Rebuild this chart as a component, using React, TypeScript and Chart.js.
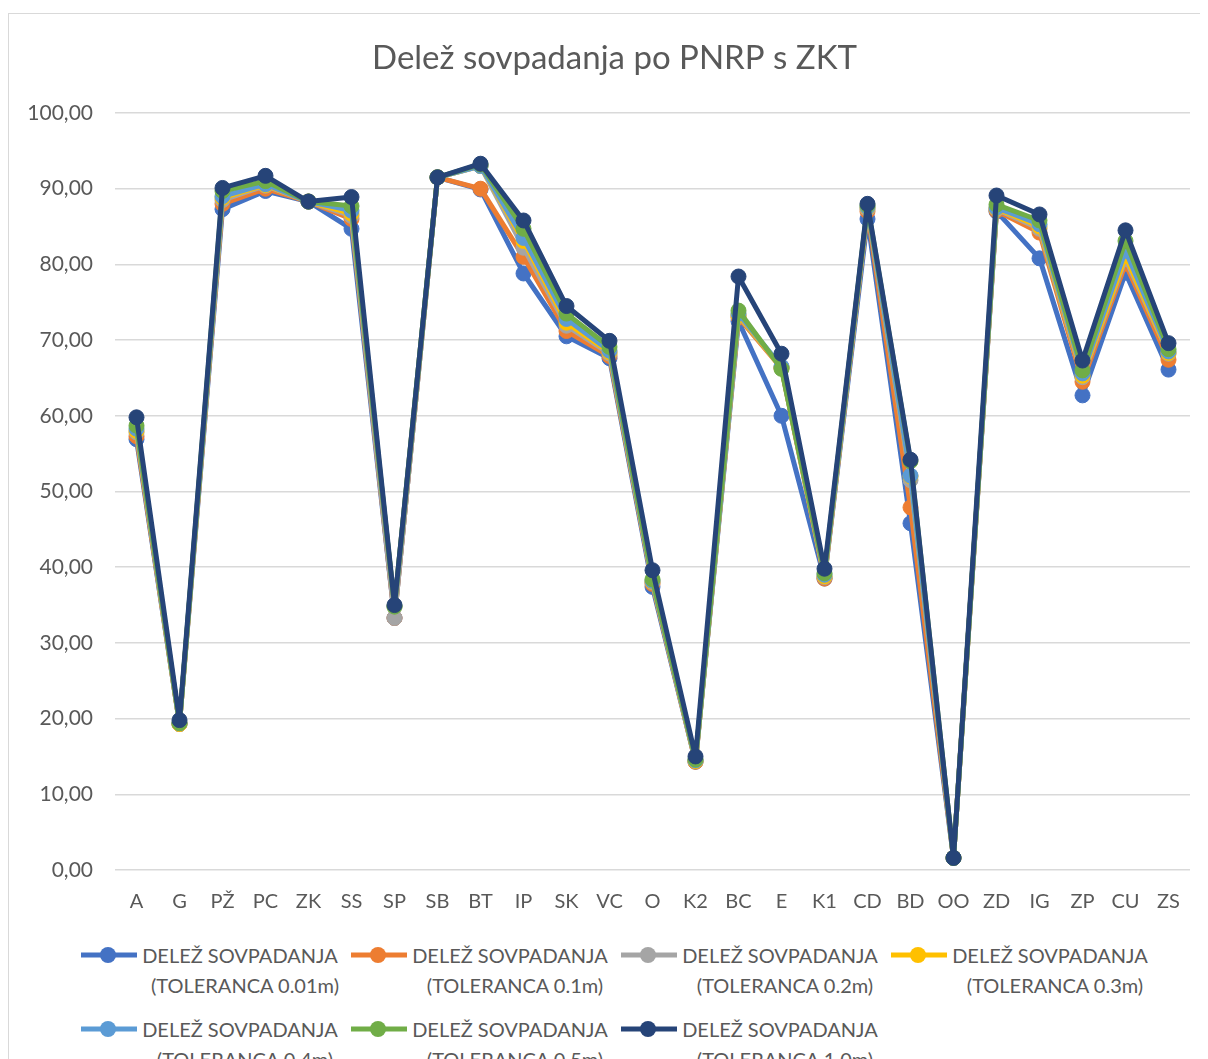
import React, { useEffect, useRef } from "react";
import { Chart, registerables } from "chart.js";

Chart.register(...registerables);

const titleText = "Delež sovpadanja po PNRP s ZKT";

const categories = ["A","G","PŽ","PC","ZK","SS","SP","SB","BT","IP","SK","VC","O","K2","BC","E","K1","CD","BD","OO","ZD","IG","ZP","CU","ZS"];

const tol001 = [56.9,19.3,87.3,89.7,88.3,84.7,33.3,91.5,89.9,78.8,70.5,67.6,37.4,14.3,72.5,60.0,38.5,86.0,45.8,1.6,87.0,80.8,62.7,78.9,66.1];
const tol01  = [57.3,19.3,88.0,90.0,88.3,86.0,33.3,91.5,90.0,81.0,71.2,67.9,37.8,14.3,73.0,66.3,38.5,87.0,47.9,1.6,87.1,84.2,64.5,80.1,67.4];
const tol02  = [57.8,19.3,88.5,90.4,88.3,86.4,33.3,91.5,93.0,82.2,71.9,68.2,38.0,14.4,73.2,66.4,38.7,87.3,51.5,1.6,87.3,84.7,65.1,80.7,68.2];
const tol03  = [58.0,19.3,88.8,90.5,88.3,86.7,34.8,91.5,93.0,83.1,72.3,68.4,38.1,14.4,73.3,66.4,38.8,87.5,52.0,1.6,87.4,85.0,65.3,81.1,68.3];
const tol04  = [58.3,19.4,89.0,90.6,88.3,87.1,34.8,91.5,93.0,83.5,72.8,68.6,38.2,14.5,73.5,66.5,39.0,87.6,52.1,1.6,87.5,85.3,65.6,81.8,68.5];
const tol05  = [58.7,19.4,89.7,91.0,88.3,87.7,34.8,91.5,93.2,84.7,73.5,69.1,38.4,14.6,73.9,66.2,39.2,87.8,54.0,1.6,87.9,85.8,66.0,83.1,68.8];
const tol10  = [59.8,19.8,90.1,91.7,88.3,88.9,35.0,91.5,93.3,85.8,74.5,69.9,39.6,15.0,78.4,68.2,39.8,88.0,54.2,1.6,89.1,86.6,67.3,84.5,69.6];

const seriesLabels = [
  "(TOLERANCA 0.01m)",
  "(TOLERANCA 0.1m)",
  "(TOLERANCA 0.2m)",
  "(TOLERANCA 0.3m)",
  "(TOLERANCA 0.4m)",
  "(TOLERANCA 0.5m)",
  "(TOLERANCA 1.0m)",
];
const seriesData = [tol001, tol01, tol02, tol03, tol04, tol05, tol10];
const seriesColors = ["#4472C4","#ED7D31","#A5A5A5","#FFC000","#5B9BD5","#70AD47","#264478"];

const yTicks = [0,10,20,30,40,50,60,70,80,90,100];

const FONT = "Lato, 'Liberation Sans', sans-serif";
const TEXT = "#595959";

const titlePlugin = {
  id: "centeredTitle",
  afterDraw(chart: any) {
    const ctx = chart.ctx;
    ctx.save();
    ctx.font = `normal 33px ${FONT}`;
    ctx.fillStyle = TEXT;
    ctx.textAlign = "center";
    ctx.textBaseline = "middle";
    ctx.fillText(titleText, chart.width / 2, 44);
    ctx.restore();
  },
};

export default function App() {
  const ref = useRef<HTMLCanvasElement | null>(null);

  useEffect(() => {
    if (!ref.current) return;
    const n = seriesData.length;
    const chart = new Chart(ref.current, {
      type: "line",
      data: {
        labels: categories,
        datasets: seriesData.map((d, i) => ({
          label: "DELEŽ SOVPADANJA " + seriesLabels[i],
          data: d,
          order: n - 1 - i,
          borderColor: seriesColors[i],
          backgroundColor: seriesColors[i],
          pointBackgroundColor: seriesColors[i],
          pointBorderColor: seriesColors[i],
          borderWidth: 5,
          borderJoinStyle: "round",
          borderCapStyle: "round",
          pointRadius: 7.5,
          pointBorderWidth: 1,
          tension: 0,
          fill: false,
        })),
      },
      plugins: [titlePlugin],
      options: {
        responsive: false,
        animation: false,
        layout: { padding: { left: 0, right: 30, top: 99, bottom: 20 } },
        plugins: {
          legend: { display: false },
          tooltip: { enabled: false },
          title: { display: false },
        },
        scales: {
          x: {
            offset: true,
            grid: { display: false, drawTicks: false },
            border: { display: false },
            afterFit: (axis: any) => {
              axis.height = 44;
            },
            ticks: {
              color: TEXT,
              font: { family: FONT, size: 20 },
              padding: 20,
              maxRotation: 0,
              autoSkip: false,
            },
          },
          y: {
            min: 0,
            max: 100,
            afterBuildTicks: (axis: any) => {
              axis.ticks = yTicks.map((v) => ({ value: v }));
            },
            afterFit: (axis: any) => {
              axis.width = 106;
            },
            grid: { color: "#d9d9d9", lineWidth: 1.5, drawTicks: false },
            border: { display: false },
            ticks: {
              color: TEXT,
              font: { family: FONT, size: 21 },
              padding: 22,
              callback: (v: any) => Number(v).toFixed(2).replace(".", ","),
            },
          },
        },
      },
    });
    return () => chart.destroy();
  }, []);

  return (
    <div style={{ width: 1192, overflow: "hidden" }}>
      <div
        style={{
          marginTop: 5,
          borderLeft: "1px solid #d9d9d9",
          borderTop: "1px solid #d9d9d9",
          width: 1211,
          fontFamily: FONT,
          height: 1046,
          overflow: "hidden",
        }}
      >
        <canvas ref={ref} width={1211} height={920} style={{ display: "block" }} />
        <div
          style={{
            display: "flex",
            flexWrap: "wrap",
            paddingLeft: 71,
            paddingTop: 6,
            rowGap: 14,
            width: 1140,
          }}
        >
          {seriesLabels.map((lab, i) => (
            <div key={i} style={{ display: "flex", width: 270, alignItems: "flex-start" }}>
              <svg width={58} height={30} style={{ flex: "none" }}>
                <line x1={1} y1={15} x2={57} y2={15} stroke={seriesColors[i]} strokeWidth={5} />
                <circle cx={28} cy={15} r={8} fill={seriesColors[i]} />
              </svg>
              <div
                style={{
                  width: 204,
                  textAlign: "center",
                  fontSize: 20,
                  lineHeight: "30px",
                  color: TEXT,
                  whiteSpace: "nowrap",
                }}
              >
                <div>DELEŽ SOVPADANJA</div>
                <div style={{ paddingLeft: 10 }}>{lab}</div>
              </div>
            </div>
          ))}
        </div>
      </div>
    </div>
  );
}
